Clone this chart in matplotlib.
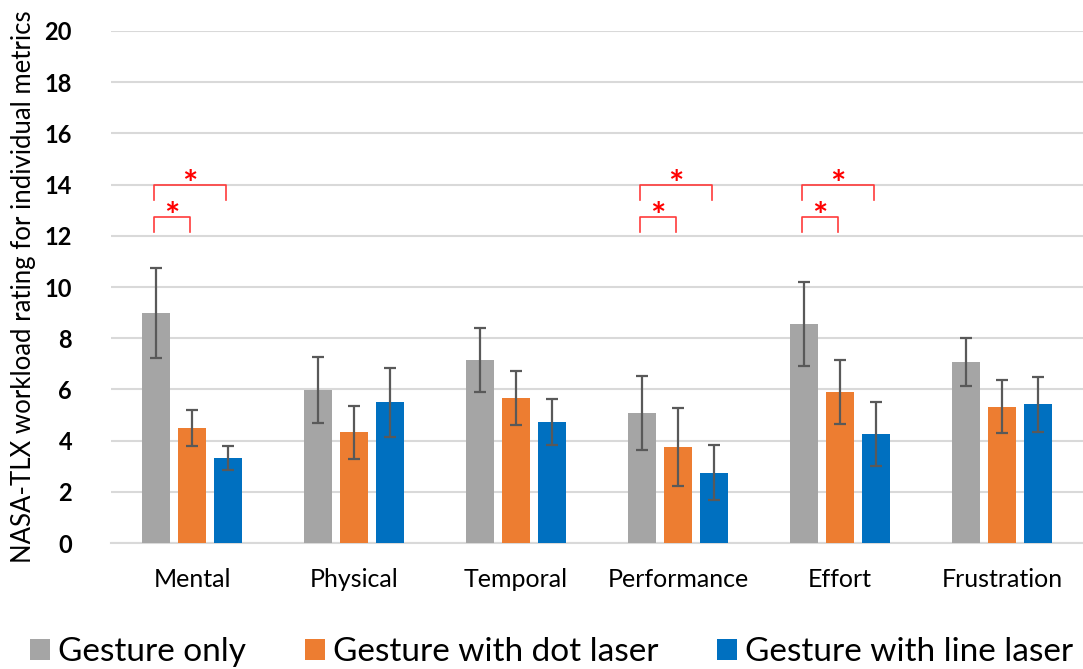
import numpy as np
import matplotlib.pyplot as plt

plt.rcParams['font.family'] = ['Lato', 'DejaVu Sans']

# Data
categories = ['Mental', 'Physical', 'Temporal', 'Performance', 'Effort', 'Frustration']
series_names = ['Gesture only', 'Gesture with dot laser', 'Gesture with line laser']
gesture_only = [9.0, 5.98, 7.15, 5.07, 8.55, 7.07]
gesture_only_err = [1.76, 1.29, 1.25, 1.45, 1.63, 0.93]
dot_laser = [4.49, 4.32, 5.65, 3.75, 5.89, 5.33]
dot_laser_err = [0.70, 1.03, 1.05, 1.54, 1.24, 1.05]
line_laser = [3.32, 5.49, 4.74, 2.75, 4.25, 5.42]
line_laser_err = [0.48, 1.33, 0.90, 1.07, 1.26, 1.07]
# significance brackets: (category index, from series, to series)
sig_pairs = [(0, 0, 1), (0, 0, 2), (3, 0, 1), (3, 0, 2), (4, 0, 1), (4, 0, 2)]

colors = ['#A5A5A5', '#ED7D31', '#0070C0']
values = [gesture_only, dot_laser, line_laser]
errors = [gesture_only_err, dot_laser_err, line_laser_err]

fig = plt.figure(figsize=(10.83, 6.69), dpi=100)
ax = fig.add_axes([0.1025, 0.1883, 0.8975, 0.7654])

x = np.arange(len(categories))
width = 0.173
pitch = 0.222

for i in range(3):
    ax.bar(x + (i - 1) * pitch, values[i], width, color=colors[i],
           label=series_names[i], zorder=3,
           yerr=errors[i], capsize=4.5,
           error_kw=dict(ecolor='#595959', elinewidth=1.6, capthick=1.6, zorder=4))

# significance brackets
for cat, a, b in sig_pairs:
    x0 = cat + (a - 1) * pitch - 0.015
    x1 = cat + (b - 1) * pitch - 0.015
    if b == 1:
        ylow, ytop = 12.15, 12.75
    else:
        ylow, ytop = 13.4, 14.0
    ax.plot([x0, x0, x1, x1], [ylow, ytop, ytop, ylow], color='#FF3B3B',
            lw=1.2, zorder=5, solid_joinstyle='round')
    ax.text((x0 + x1) / 2, ytop - 0.45, '*', color='red', ha='center',
            va='baseline', fontsize=26, fontweight='bold')

ax.set_xlim(-0.5, len(categories) - 0.5)
ax.set_ylim(0, 20)
ax.set_yticks(np.arange(0, 21, 2))
ax.set_xticks(x)
ax.set_xticklabels(categories, fontsize=18)
for lbl in ax.get_yticklabels():
    lbl.set_fontweight('bold')
    lbl.set_fontsize(17)
ax.tick_params(axis='x', length=0, pad=18)
ax.tick_params(axis='y', length=0, pad=28)

ax.grid(axis='y', color='#D9D9D9', lw=1.5, zorder=0)
for s in ['top', 'right', 'left']:
    ax.spines[s].set_visible(False)
ax.spines['bottom'].set_color('#D9D9D9')
ax.spines['bottom'].set_linewidth(1.5)

ax.set_ylabel('NASA-TLX workload rating for individual metrics', fontsize=18.5, labelpad=6)

fig.legend(loc='lower left', bbox_to_anchor=(0.0, -0.042), ncol=3, fontsize=24,
           frameon=False, handlelength=0.6, handleheight=0.6, handletextpad=0.25,
           columnspacing=1.75)

plt.savefig('out.png', dpi=100)
